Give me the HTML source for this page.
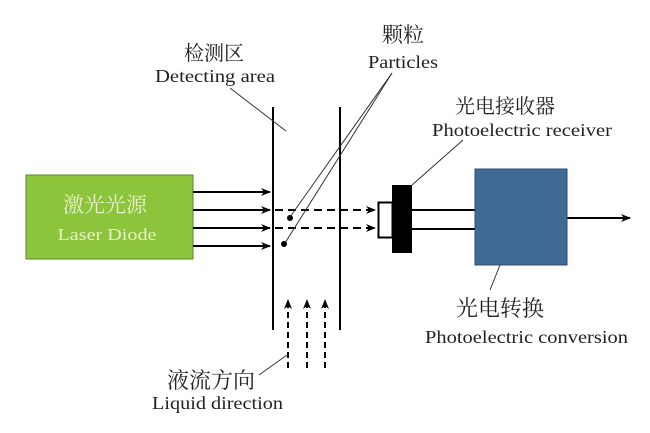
<!DOCTYPE html>
<html><head><meta charset="utf-8"><style>
html,body{margin:0;padding:0;background:#fff;}
svg{display:block}
text{font-family:"Liberation Serif","Noto Serif CJK SC",serif;fill:#222}
</style></head><body>
<svg width="650" height="433" viewBox="0 0 650 433">
<defs>
<marker id="a" markerWidth="10" markerHeight="8" refX="9" refY="4" orient="auto" markerUnits="userSpaceOnUse"><path d="M0,0 L10,4 L0,8 L3,4 Z" fill="#000"/></marker>
</defs>
<rect x="26" y="175" width="167" height="84" fill="#8cc43c" stroke="#5a8a2a" stroke-width="1"/>
<text x="105" y="212" text-anchor="middle" font-size="21" style="fill:#e6f2c8">激光光源</text>
<text x="107" y="240" text-anchor="middle" font-size="17" textLength="99" lengthAdjust="spacingAndGlyphs" style="fill:#e6f2c8">Laser Diode</text>
<g stroke="#000" stroke-width="2">
<line x1="193" y1="192" x2="270" y2="192" marker-end="url(#a)"/>
<line x1="193" y1="210" x2="270" y2="210" marker-end="url(#a)"/>
<line x1="193" y1="228" x2="270" y2="228" marker-end="url(#a)"/>
<line x1="193" y1="246" x2="270" y2="246" marker-end="url(#a)"/>
<line x1="273" y1="107" x2="273" y2="330"/>
<line x1="340" y1="107" x2="340" y2="330"/>
<line x1="275" y1="210" x2="375" y2="210" stroke-dasharray="8,5" marker-end="url(#a)"/>
<line x1="275" y1="228" x2="375" y2="228" stroke-dasharray="8,5" marker-end="url(#a)"/>
<line x1="288" y1="368" x2="288" y2="300" stroke-dasharray="6,4" marker-end="url(#a)"/>
<line x1="307" y1="368" x2="307" y2="300" stroke-dasharray="6,4" marker-end="url(#a)"/>
<line x1="325" y1="368" x2="325" y2="300" stroke-dasharray="6,4" marker-end="url(#a)"/>
<line x1="412" y1="210" x2="475" y2="210"/>
<line x1="412" y1="229" x2="475" y2="229"/>
<line x1="567" y1="218" x2="630" y2="218" marker-end="url(#a)"/>
</g>
<g stroke="#333" stroke-width="1">
<line x1="230" y1="88" x2="286" y2="131"/>
<line x1="392" y1="73" x2="290" y2="217"/>
<line x1="392" y1="73" x2="285" y2="243"/>
<line x1="412" y1="185" x2="463" y2="140"/>
<line x1="259" y1="375" x2="287" y2="355"/>
<line x1="500" y1="265" x2="490" y2="290"/>
</g>
<circle cx="290" cy="218" r="3" fill="#000"/>
<circle cx="284" cy="244" r="3" fill="#000"/>
<rect x="378.5" y="202.5" width="14" height="35" fill="#fff" stroke="#000" stroke-width="2"/>
<rect x="392" y="185" width="20" height="68" fill="#000"/>
<rect x="475" y="169" width="92" height="96" fill="#3f6a96" stroke="#2c4f75" stroke-width="1"/>
<text x="214" y="60" text-anchor="middle" font-size="20">检测区</text>
<text x="155" y="82" font-size="18" textLength="120" lengthAdjust="spacingAndGlyphs">Detecting area</text>
<text x="403" y="42" text-anchor="middle" font-size="21">颗粒</text>
<text x="368" y="68" font-size="18" textLength="70" lengthAdjust="spacingAndGlyphs">Particles</text>
<text x="505" y="113" text-anchor="middle" font-size="20">光电接收器</text>
<text x="432" y="136" font-size="18" textLength="180" lengthAdjust="spacingAndGlyphs">Photoelectric receiver</text>
<text x="500" y="316" text-anchor="middle" font-size="22">光电转换</text>
<text x="425" y="343" font-size="18" textLength="203" lengthAdjust="spacingAndGlyphs">Photoelectric conversion</text>
<text x="211" y="388" text-anchor="middle" font-size="22">液流方向</text>
<text x="152" y="409" font-size="18" textLength="131" lengthAdjust="spacingAndGlyphs">Liquid direction</text>
</svg>
</body></html>
